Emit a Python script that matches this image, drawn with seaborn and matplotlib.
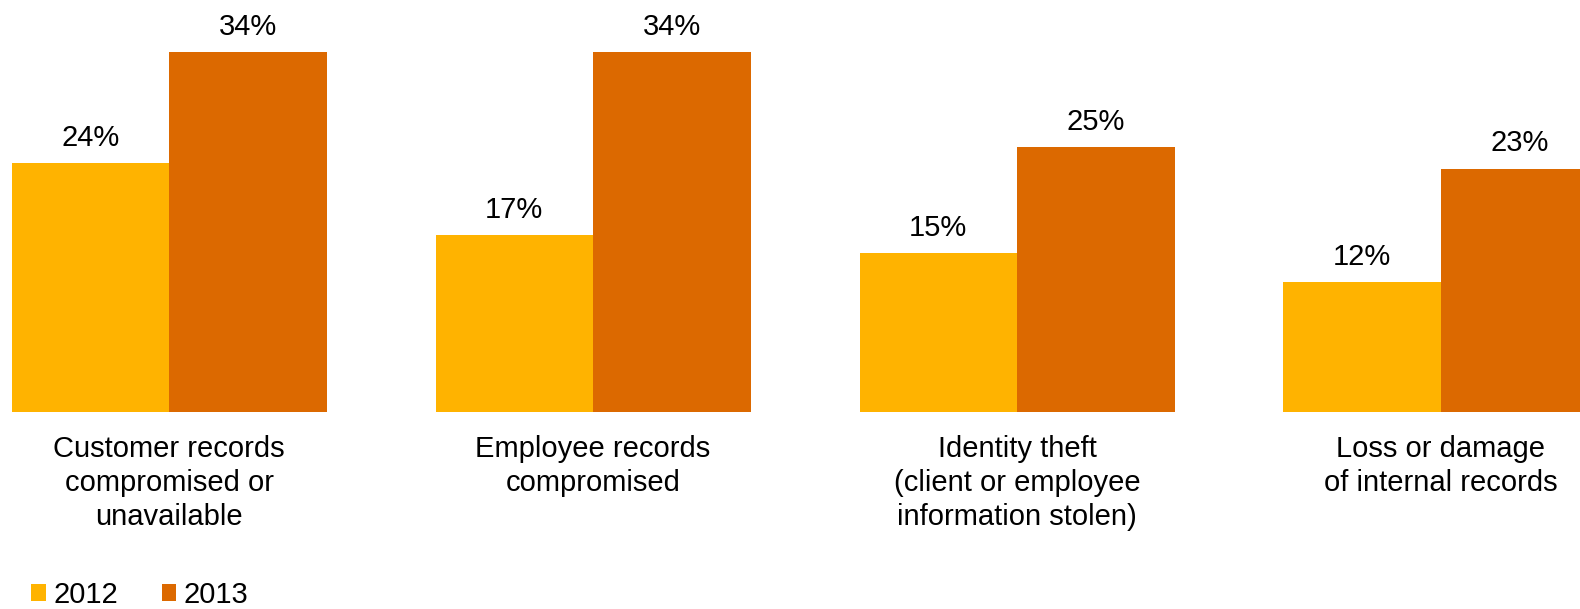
import matplotlib
matplotlib.use("Agg")
import matplotlib.pyplot as plt
from matplotlib.patches import Patch
import seaborn as sns
import pandas as pd

categories = [
    "Customer records\ncompromised or\nunavailable",
    "Employee records\ncompromised",
    "Identity theft\n(client or employee\ninformation stolen)",
    "Loss or damage\nof internal records",
]
years = ["2012", "2013"]
values_2012 = [23.5, 16.7, 15.0, 12.3]
values_2013 = [34.0, 34.0, 25.0, 23.0]
labels_2012 = ["24%", "17%", "15%", "12%"]
labels_2013 = ["34%", "34%", "25%", "23%"]
colors = ["#FFB300", "#DC6900"]

sns.set_theme(style="white")
plt.rcParams["font.family"] = ["Liberation Sans", "DejaVu Sans"]
plt.rcParams["text.color"] = "black"

df = pd.DataFrame({
    "category": categories * 2,
    "year": [years[0]] * 4 + [years[1]] * 4,
    "value": values_2012 + values_2013,
})

W, H = 1580, 609
fig = plt.figure(figsize=(W / 100, H / 100), dpi=100)
base = 197.3 / H
ax = fig.add_axes([0, base, 1, 1 - base])

sns.barplot(data=df, x="category", y="value", hue="year", hue_order=years,
            order=categories, palette=colors, saturation=1, width=0.743,
            linewidth=0, ax=ax, legend=False)

ax.set_xlim(-0.399, 3.328)
ax.set_ylim(0, 38.95)
for s in ax.spines.values():
    s.set_visible(False)
ax.set_yticks([])
ax.set_xlabel("")
ax.set_ylabel("")
ax.tick_params(axis="x", length=0, pad=17, labelsize=21, colors="black")
for t in ax.get_xticklabels():
    t.set_linespacing(1.26)

for cont, labs in zip(ax.containers, [labels_2012, labels_2013]):
    ax.bar_label(cont, labels=labs, padding=8, fontsize=21, color="black")

handles = [Patch(facecolor=c, edgecolor="none") for c in colors]
fig.legend(handles, years, loc="lower left", bbox_to_anchor=(31 / W, 0),
           frameon=False, fontsize=21, ncol=2, handlelength=0.5,
           handleheight=0.5, handletextpad=0.26, columnspacing=1.5,
           borderpad=0, borderaxespad=0, labelcolor="black")

fig.savefig("out.png", dpi=100)
